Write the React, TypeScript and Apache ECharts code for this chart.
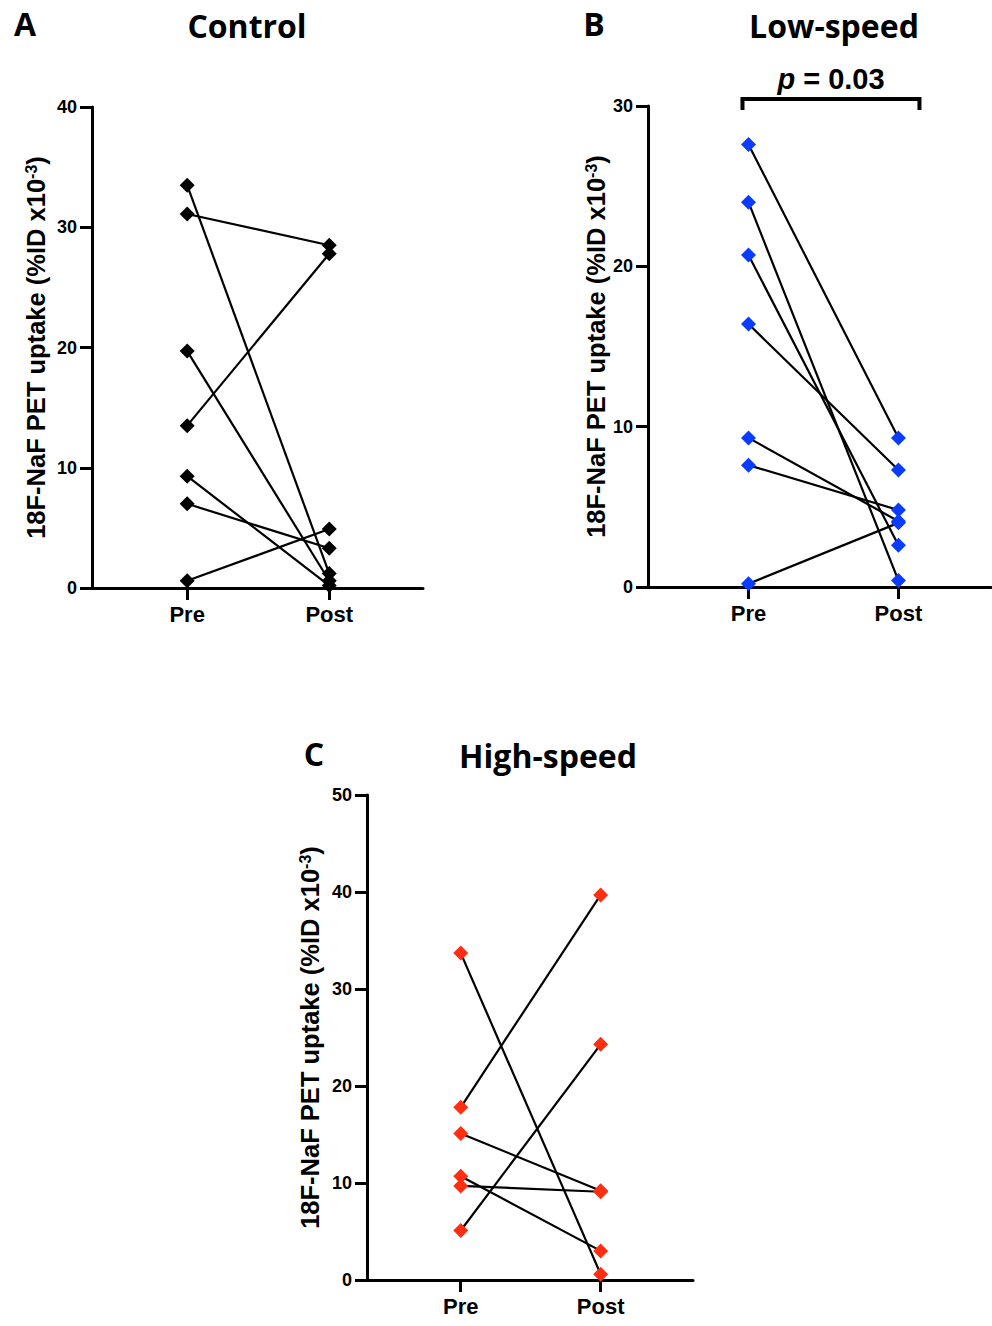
import React, { useEffect, useRef } from "react";
import * as echarts from "echarts";

// ---- data ----
const groups = ["Pre", "Post"];
const controlPre = [33.5, 31.1, 19.7, 13.5, 9.3, 7.0, 0.6];
const controlPost = [1.2, 28.5, 0.6, 27.8, 0.2, 3.3, 4.9];
const lowPre = [27.6, 24.0, 20.7, 16.4, 9.3, 7.6, 0.2];
const lowPost = [9.3, 0.4, 2.6, 7.3, 4.1, 4.8, 4.0];
const highPre = [33.7, 17.8, 15.1, 10.7, 9.7, 5.1];
const highPost = [0.6, 39.7, 9.2, 3.0, 9.1, 24.3];
const yMaxA = 40;
const yMaxB = 30;
const yMaxC = 50;
const pLabel = "p = 0.03";
// bracket: [xStart, xEnd, yLegBottom, yTop]
const bracket = [[0.96, 2.14, 29.75, 30.44]];

const BLACK = "#000000";
const BLUE = "#0a3cff";
const RED = "#ff2e12";
const AXFONT = "Arial";
const TITLEFONT = "Open Sans";
const X_MIN = 0.33;

function makeXAxis(gridIndex: number, max: number) {
  return {
    type: "value",
    gridIndex,
    min: X_MIN,
    max,
    axisLine: { show: true, onZero: false, lineStyle: { color: BLACK, width: 3 } },
    axisTick: {
      show: true,
      customValues: [1, 2],
      length: 12,
      lineStyle: { color: BLACK, width: 3 },
    },
    axisLabel: {
      show: true,
      customValues: [1, 2],
      margin: 15,
      formatter: (v: number) => groups[Math.round(v) - 1] ?? "",
      color: BLACK,
      fontFamily: AXFONT,
      fontWeight: "bold",
      fontSize: 22,
    },
    splitLine: { show: false },
  };
}

function makeYAxis(gridIndex: number, max: number, nameGap: number) {
  return {
    type: "value",
    gridIndex,
    min: 0,
    max,
    interval: 10,
    name: "18F-NaF PET uptake (%ID x10{sup|-3})",
    nameLocation: "middle",
    nameGap,
    nameTextStyle: {
      color: BLACK,
      fontFamily: AXFONT,
      fontWeight: "bold",
      fontSize: 25.5,
      rich: {
        sup: {
          fontFamily: AXFONT,
          fontWeight: "bold",
          fontSize: 16,
          color: BLACK,
          verticalAlign: "top",
          padding: [0, 0, 10, 0],
        },
      },
    },
    axisLine: { show: true, onZero: false, lineStyle: { color: BLACK, width: 3 } },
    axisTick: { show: true, length: 12, lineStyle: { color: BLACK, width: 3 } },
    axisLabel: {
      show: true,
      margin: 15,
      color: BLACK,
      fontFamily: AXFONT,
      fontWeight: "bold",
      fontSize: 18,
    },
    splitLine: { show: false },
  };
}

function pairSeries(pre: number[], post: number[], idx: number, color: string) {
  return pre.map((v, i) => ({
    type: "line",
    xAxisIndex: idx,
    yAxisIndex: idx,
    data: [
      [1, v],
      [2, post[i]],
    ],
    symbol: "diamond",
    symbolSize: 15,
    showSymbol: true,
    itemStyle: { color },
    lineStyle: { color: BLACK, width: 2.2 },
    silent: true,
    z: 3,
  }));
}

export default function App() {
  const ref = useRef<HTMLDivElement | null>(null);
  useEffect(() => {
    if (!ref.current) return;
    const chart = echarts.init(ref.current, undefined, { renderer: "svg" });
    const option: any = {
      animation: false,
      backgroundColor: "#ffffff",
      grid: [
        { left: 92, top: 107, width: 331, height: 481 },
        { left: 648, top: 106, width: 343, height: 481 },
        { left: 367, top: 795, width: 326, height: 485 },
      ],
      xAxis: [makeXAxis(0, 2.66), makeXAxis(1, 2.617), makeXAxis(2, 2.66)],
      yAxis: [makeYAxis(0, yMaxA, 43), makeYAxis(1, yMaxB, 38), makeYAxis(2, yMaxC, 44)],
      series: [
        ...pairSeries(controlPre, controlPost, 0, BLACK),
        ...pairSeries(lowPre, lowPost, 1, BLUE),
        ...pairSeries(highPre, highPost, 2, RED),
        {
          type: "custom",
          xAxisIndex: 1,
          yAxisIndex: 1,
          clip: false,
          silent: true,
          data: bracket,
          renderItem: (params: any, api: any) => {
            const x0 = api.value(0);
            const x1 = api.value(1);
            const yb = api.value(2);
            const yt = api.value(3);
            const p1 = api.coord([x0, yb]);
            const p2 = api.coord([x0, yt]);
            const p3 = api.coord([x1, yt]);
            const p4 = api.coord([x1, yb]);
            return {
              type: "group",
              children: [
                {
                  type: "polyline",
                  shape: { points: [p1, p2, p3, p4] },
                  style: { stroke: BLACK, lineWidth: 4, fill: null },
                },
                {
                  type: "text",
                  x: (p2[0] + p3[0]) / 2,
                  y: p2[1] - 5,
                  style: {
                    text: "{i|p}{n|" + pLabel.slice(1) + "}",
                    textAlign: "center",
                    textVerticalAlign: "bottom",
                    rich: {
                      i: {
                        fontFamily: AXFONT,
                        fontWeight: "bold",
                        fontStyle: "italic",
                        fontSize: 29,
                        fill: BLACK,
                      },
                      n: {
                        fontFamily: AXFONT,
                        fontWeight: "bold",
                        fontSize: 29,
                        fill: BLACK,
                      },
                    },
                  },
                },
              ],
            };
          },
        },
      ],
      graphic: [
        { type: "text", x: 25, y: 23, style: { text: "A", font: `bold 32px '${TITLEFONT}'`, fill: BLACK, textAlign: "center", textVerticalAlign: "middle" } },
        { type: "text", x: 247, y: 25, style: { text: "Control", font: `bold 32px '${TITLEFONT}'`, fill: BLACK, textAlign: "center", textVerticalAlign: "middle" } },
        { type: "text", x: 594, y: 23, style: { text: "B", font: `bold 32px '${TITLEFONT}'`, fill: BLACK, textAlign: "center", textVerticalAlign: "middle" } },
        { type: "text", x: 834, y: 25, style: { text: "Low-speed", font: `bold 32px '${TITLEFONT}'`, fill: BLACK, textAlign: "center", textVerticalAlign: "middle" } },
        { type: "text", x: 314, y: 753, style: { text: "C", font: `bold 32px '${TITLEFONT}'`, fill: BLACK, textAlign: "center", textVerticalAlign: "middle" } },
        { type: "text", x: 548, y: 755, style: { text: "High-speed", font: `bold 32px '${TITLEFONT}'`, fill: BLACK, textAlign: "center", textVerticalAlign: "middle" } },
      ],
    };
    chart.setOption(option);
    return () => chart.dispose();
  }, []);
  return (
    <div
      ref={ref}
      style={{ position: "absolute", left: 0, top: 0, width: 992, height: 1326, background: "#fff" }}
    />
  );
}
